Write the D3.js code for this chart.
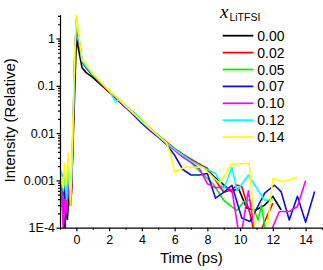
<!DOCTYPE html>
<html><head><meta charset="utf-8">
<script src="https://cdn.jsdelivr.net/npm/d3@7"></script>
<style>html,body{margin:0;padding:0;background:#fff;}svg{display:block;font-family:"Liberation Sans",Arial,sans-serif;}</style>
</head><body><svg id="c" width="323" height="270"></svg>
<script>
const seriesNames = ["0.00","0.02","0.05","0.07","0.10","0.12","0.14"];
const seriesColors = ["#000000","#ff0000","#00f000","#1010d0","#ff00ff","#00ffff","#ffff00"];

const t000 = [-1.0,-0.9,-0.8,-0.72,-0.65,-0.55,-0.45,-0.35,-0.25,-0.1,0.0,0.15,0.35,0.6,1.0,1.5,2.0,2.5,3.0,3.5,4.0,4.5,5.0,5.5,6.0,6.5,7.0,7.5,8.0,8.4,8.8,9.2,9.5,9.9,10.4,10.9,11.5,12.0,12.5];
const v000 = [0.0004,0.0009,0.0002,0.00004,0.0003,0.00015,0.0005,0.0003,0.002,0.08,1.0,0.55,0.24,0.19,0.15,0.105,0.073,0.051,0.035,0.025,0.0172,0.0122,0.0086,0.0062,0.0045,0.0033,0.0027,0.0022,0.0017,0.0012,0.00093,0.0007,0.00058,0.00068,0.00026,0.00023,0.0003,0.00046,0.00024];

const t002 = [-1.0,-0.9,-0.8,-0.7,-0.6,-0.5,-0.4,-0.3,-0.2,-0.1,0.0,0.15,0.35,0.6,1.0,1.5,2.0,2.5,3.0,3.5,4.0,4.5,5.0,5.5,6.0,6.5,7.0,7.5,8.0,8.5,9.0,9.5,9.8,10.1,10.6,11.0,11.5,12.0];
const v002 = [0.0006,0.0003,0.001,0.0002,0.0005,0.0008,0.0003,0.0006,0.01,0.3,2.2,0.9,0.32,0.24,0.165,0.11,0.074,0.051,0.036,0.025,0.0178,0.0125,0.009,0.0065,0.0047,0.0036,0.0028,0.0022,0.0018,0.001,0.00056,0.00063,0.0008,0.00074,0.0002,0.00005,0.000135,0.00033];

const t005 = [-1.0,-0.9,-0.8,-0.7,-0.6,-0.5,-0.4,-0.3,-0.2,-0.1,0.0,0.15,0.35,0.6,1.0,1.5,2.0,2.5,3.0,3.5,4.0,4.5,5.0,5.5,6.0,6.5,7.0,7.5,8.0,8.4,9.0,9.8,10.2,10.6,11.1,11.3,11.7];
const v005 = [0.0008,0.0012,0.0004,0.0009,0.00025,0.0015,0.0004,0.0008,0.015,0.4,2.5,1.0,0.33,0.25,0.17,0.115,0.079,0.055,0.038,0.027,0.0185,0.0128,0.009,0.0063,0.0045,0.0032,0.0024,0.0016,0.0011,0.0008,0.00038,0.00023,0.00035,0.00039,0.000145,0.0003,0.00004];

const t007 = [-1.0,-0.9,-0.8,-0.7,-0.6,-0.5,-0.4,-0.3,-0.2,-0.1,0.0,0.15,0.35,0.6,1.0,1.5,2.0,2.5,3.0,3.5,4.0,4.5,5.0,5.5,6.0,6.5,7.0,7.5,8.0,8.5,9.0,9.5,10.1,10.6,11.5,12.1,12.5,13.0,13.5,14.0,14.55];
const v007 = [0.0012,0.0005,0.0013,0.0003,0.0007,0.0004,0.001,0.0005,0.012,0.35,2.3,0.95,0.32,0.245,0.168,0.112,0.076,0.052,0.036,0.024,0.016,0.0113,0.0082,0.0058,0.0034,0.0017,0.0013,0.0013,0.0014,0.00042,0.00056,0.00079,0.00016,0.000135,0.00054,0.00079,0.00058,0.000145,0.00046,0.00013,0.00058];

const t010 = [-1.0,-0.9,-0.8,-0.7,-0.6,-0.5,-0.4,-0.3,-0.2,-0.1,0.0,0.15,0.35,0.6,1.0,1.5,2.0,2.5,3.0,3.5,4.0,4.5,5.0,5.5,6.0,6.5,7.0,7.5,8.0,8.5,9.0,9.5,10.0,10.5,11.0,11.7,12.4,13.0,13.5,14.0];
const v010 = [0.0002,0.0006,0.00008,0.0004,0.0002,0.0009,0.0004,0.0007,0.013,0.4,2.6,1.05,0.34,0.26,0.175,0.115,0.077,0.053,0.036,0.025,0.0172,0.012,0.0086,0.006,0.0043,0.0031,0.0024,0.0018,0.00085,0.0007,0.00074,0.00063,0.00005,0.0006,0.00005,0.00006,0.00022,0.00022,0.00028,0.001];

const t012 = [-1.0,-0.9,-0.8,-0.7,-0.6,-0.5,-0.4,-0.3,-0.2,-0.1,0.0,0.15,0.35,0.6,1.0,1.5,2.0,2.4,2.6,3.0,3.5,4.0,4.5,5.0,5.5,6.0,6.5,7.0,7.5,8.0,8.5,9.0,9.5,9.8,10.5,11.0,11.5,12.0];
const v012 = [0.0009,0.0015,0.0006,0.0012,0.0004,0.0018,0.0006,0.0009,0.015,0.45,2.4,1.0,0.33,0.255,0.172,0.116,0.078,0.045,0.052,0.037,0.026,0.0176,0.0123,0.0087,0.0062,0.0045,0.0034,0.0026,0.0021,0.0017,0.0014,0.00065,0.0019,0.0006,0.0013,0.0007,0.00038,0.00039];

const t014 = [-1.0,-0.9,-0.8,-0.72,-0.62,-0.5,-0.42,-0.35,-0.25,-0.1,0.0,0.15,0.35,0.6,1.0,1.5,2.0,2.5,3.0,3.5,4.0,4.5,5.0,5.5,5.75,6.0,6.6,7.7,8.75,9.47,10.55,11.0,11.5,12.0,12.6,13.5];
const v014 = [0.0005,0.0012,0.0007,0.0023,0.0008,0.0037,0.0011,0.0003,0.006,0.5,3.1,1.2,0.36,0.28,0.18,0.12,0.08,0.055,0.038,0.026,0.018,0.0126,0.0088,0.0062,0.0037,0.0015,0.0019,0.0019,0.00087,0.0022,0.0023,0.00004,0.00003,0.0011,0.00093,0.00115];

const seriesT = [t000,t002,t005,t007,t010,t012,t014];
const seriesV = [v000,v002,v005,v007,v010,v012,v014];

const yMajor = [1e-4,1e-3,1e-2,1e-1,1];
const yLabels = ["1E-4","0.001","0.01","0.1","1"];
const xMajor = [0,2,4,6,8,10,12,14];
const xMinor = [-1,1,3,5,7,9,11,13,15];

const svg = d3.select("#c");
const L = 60, R = 322, T = 14.6, B = 227.7;
const x = d3.scaleLinear().domain([-1,15]).range([L,R]);
const y = d3.scaleLog().domain([1e-4,3.2]).range([B,T]);

svg.append("defs").append("clipPath").attr("id","clip")
  .append("rect").attr("x",L).attr("y",T).attr("width",R-L).attr("height",B-T);

const line = d3.line().x(d=>x(d[0])).y(d=>y(d[1]));
const g = svg.append("g").attr("clip-path","url(#clip)");
seriesT.forEach((ts,i)=>{
  const pts = ts.map((t,j)=>[t,seriesV[i][j]]);
  g.append("path").datum(pts).attr("d",line).attr("fill","none")
    .attr("stroke",seriesColors[i]).attr("stroke-width",1.6).attr("stroke-linejoin","round");
});

const yMinor = [];
[1e-4,1e-3,1e-2,1e-1,1].forEach(d=>{for(let k=2;k<=9;k++){const v=d*k; if(v<=3.2) yMinor.push(v);}});
svg.append("g").attr("transform",`translate(${L},0)`)
  .call(d3.axisLeft(y).tickValues(yMinor).tickSize(2).tickFormat("").tickSizeOuter(0))
  .call(a=>a.select(".domain").remove());
const yAx = svg.append("g").attr("transform",`translate(${L},0)`)
  .call(d3.axisLeft(y).tickValues(yMajor).tickSize(3.5).tickPadding(1.5).tickSizeOuter(0)
    .tickFormat((d,i)=>yLabels[i]));
yAx.selectAll("text").attr("font-size",12.5).attr("font-family","Liberation Sans, Arial, sans-serif").attr("fill","#000");

svg.append("g").attr("transform",`translate(0,${B})`)
  .call(d3.axisBottom(x).tickValues(xMinor).tickSize(2).tickFormat("").tickSizeOuter(0))
  .call(a=>a.select(".domain").remove());
const xAx = svg.append("g").attr("transform",`translate(0,${B})`)
  .call(d3.axisBottom(x).tickValues(xMajor).tickSize(3.5).tickPadding(3.5).tickSizeOuter(0));
xAx.selectAll("text").attr("font-size",12.5).attr("font-family","Liberation Sans, Arial, sans-serif").attr("fill","#000");
svg.selectAll(".domain, .tick line").attr("stroke","#000").attr("stroke-width",1.2);

svg.append("text").attr("x",191.3).attr("y",263).attr("text-anchor","middle")
  .attr("font-size",15).text("Time (ps)");
svg.append("text").attr("transform","translate(15,120.3) rotate(-90)").attr("text-anchor","middle")
  .attr("font-size",15).text("Intensity (Relative)");

const lg = svg.append("g");
const title = lg.append("text").attr("x",220).attr("y",18);
title.append("tspan").attr("font-family","Liberation Serif, Times New Roman, serif").attr("font-style","italic").attr("font-size",19).text("x");
title.append("tspan").attr("font-size",10.5).attr("dy",2.5).attr("dx",1).text("LiTFSI");
seriesNames.forEach((n,i)=>{
  const yy = 35.7 + i*16.9;
  lg.append("line").attr("x1",222.7).attr("x2",253.3).attr("y1",yy).attr("y2",yy)
    .attr("stroke",seriesColors[i]).attr("stroke-width",1.8);
  lg.append("text").attr("x",257.3).attr("y",yy+5).attr("font-size",14).text(n);
});
</script></body></html>
